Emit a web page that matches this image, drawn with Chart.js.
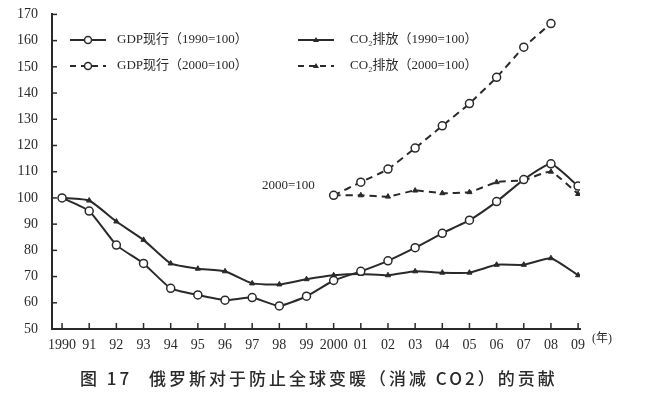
<!DOCTYPE html>
<html>
<head>
<meta charset="utf-8">
<script src="https://cdn.jsdelivr.net/npm/chart.js@4"></script>
<style>
  body { margin: 0; background: #fff; }
  #wrap { width: 646px; height: 398px; }
</style>
</head>
<body>
<div id="wrap"><canvas id="c" width="646" height="398"></canvas></div>
<script>
// x轴标签（年份）
const yearLabels = ['1990','91','92','93','94','95','96','97','98','99','2000','01','02','03','04','05','06','07','08','09'];
// GDP现行（1990=100）
const gdp1990 = [100, 95, 82, 75, 65.5, 63, 61, 62, 58.8, 62.5, 68.5, 72, 76, 81, 86.5, 91.5, 98.6, 107, 113, 104.5];
// CO2排放（1990=100）
const co2_1990 = [100, 99, 91, 84, 75, 73, 72, 67.4, 67, 69, 70.5, 71, 70.5, 72, 71.5, 71.5, 74.5, 74.5, 77, 70.5];
// GDP现行（2000=100）
const gdp2000 = [null,null,null,null,null,null,null,null,null,null, 101, 106, 111, 119, 127.5, 136, 146, 157.5, 166.5, null];
// CO2排放（2000=100）
const co2_2000 = [null,null,null,null,null,null,null,null,null,null, 101, 101, 100.5, 102.8, 101.8, 102.2, 106, 106.8, 110, 101.5];
const yTicks = [50,60,70,80,90,100,110,120,130,140,150,160,170];

const toPts = arr => arr.map((v, i) => ({ x: i, y: v }));
const ink = '#2a2a2a';
const serif = '"Liberation Serif", "DejaVu Serif", serif';
const cjk = '"Liberation Serif", "Noto Sans CJK SC", serif';

const extras = {
  id: 'extras',
  afterDraw(chart) {
    const c = chart.ctx, x = chart.scales.x, y = chart.scales.y;
    c.save();
    c.strokeStyle = ink; c.lineWidth = 1.5;
    // 刻度线（向内）
    yTicks.forEach(t => {
      const py = y.getPixelForValue(t);
      c.beginPath(); c.moveTo(x.left, py); c.lineTo(x.left + 5, py); c.stroke();
    });
    yearLabels.forEach((l, i) => {
      const px = x.getPixelForValue(i);
      c.beginPath(); c.moveTo(px, y.bottom); c.lineTo(px, y.bottom - 6); c.stroke();
    });
    // 图例
    const items = [
      { x0: 70, yy: 40, dash: [], mk: 'c', txt: 'GDP现行（1990=100）', tx: 117 },
      { x0: 70, yy: 66, dash: [6, 5], mk: 'c', txt: 'GDP现行（2000=100）', tx: 117 },
      { x0: 298, yy: 40, dash: [], mk: 't', txt: 'CO₂排放（1990=100）', tx: 350 },
      { x0: 298, yy: 66, dash: [6, 5], mk: 't', txt: 'CO₂排放（2000=100）', tx: 350 }
    ];
    items.forEach(it => {
      c.setLineDash(it.dash); c.lineWidth = 2;
      c.beginPath(); c.moveTo(it.x0, it.yy); c.lineTo(it.x0 + 36, it.yy); c.stroke();
      c.setLineDash([]);
      const mx = it.x0 + 18;
      if (it.mk === 'c') {
        c.fillStyle = '#fff'; c.lineWidth = 1.5;
        c.beginPath(); c.arc(mx, it.yy, 3.5, 0, Math.PI * 2); c.fill(); c.stroke();
      } else {
        c.fillStyle = ink;
        c.beginPath(); c.moveTo(mx, it.yy - 3); c.lineTo(mx + 3, it.yy + 2); c.lineTo(mx - 3, it.yy + 2); c.closePath(); c.fill();
      }
      c.fillStyle = ink; c.font = '13px ' + cjk; c.textBaseline = 'middle'; c.textAlign = 'left';
      c.fillText(it.txt, it.tx, it.yy);
    });
    // 注记
    c.font = '13px ' + serif; c.textAlign = 'left';
    c.fillText('2000=100', 262, 186);
    c.font = '12px ' + cjk;
    c.fillText('(年)', 592, 339);
    // 图题
    c.font = '500 17px "Noto Sans CJK SC", sans-serif';
    c.letterSpacing = '3px';
    c.fillText('图 17', 80, 379);
    c.fillText('俄罗斯对于防止全球变暖（消减 CO2）的贡献', 149, 379);
    c.restore();
  }
};

const circleDs = (label, data, dash) => ({
  label, data: toPts(data), borderColor: ink, borderWidth: 2, borderDash: dash,
  pointStyle: 'circle', pointRadius: 4, pointBackgroundColor: '#fff',
  pointBorderColor: ink, pointBorderWidth: 1.5, tension: 0.15, spanGaps: false
});
const triDs = (label, data, dash) => ({
  label, data: toPts(data), borderColor: ink, borderWidth: 2, borderDash: dash,
  pointStyle: 'triangle', pointRadius: 3, pointBackgroundColor: ink,
  pointBorderColor: ink, pointBorderWidth: 1, tension: 0.15, spanGaps: false
});

new Chart(document.getElementById('c'), {
  type: 'line',
  data: {
    datasets: [
      circleDs('GDP现行（1990=100）', gdp1990, []),
      triDs('CO2排放（1990=100）', co2_1990, []),
      circleDs('GDP现行（2000=100）', gdp2000, [7, 5]),
      triDs('CO2排放（2000=100）', co2_2000, [7, 5])
    ]
  },
  options: {
    responsive: false,
    animation: false,
    layout: { padding: { left: 0, right: 66, top: 13, bottom: 44 } },
    plugins: { legend: { display: false }, tooltip: { enabled: false } },
    scales: {
      x: {
        type: 'linear', min: -0.37, max: 19.07,
        afterBuildTicks: s => { s.ticks = yearLabels.map((l, i) => ({ value: i })); },
        afterFit: s => { s.height = 25; },
        grid: { display: false },
        border: { display: true, color: ink, width: 2 },
        ticks: { color: ink, font: { family: serif, size: 14 }, padding: 0,
                 maxRotation: 0, autoSkip: false, callback: (v) => yearLabels[v] }
      },
      y: {
        min: 50, max: 170,
        afterBuildTicks: s => { s.ticks = yTicks.map(v => ({ value: v })); },
        afterFit: s => { s.width = 52; },
        grid: { display: false },
        border: { display: true, color: ink, width: 2 },
        ticks: { color: ink, font: { family: serif, size: 14 }, padding: 6 }
      }
    }
  },
  plugins: [extras]
});
</script>
</body>
</html>
